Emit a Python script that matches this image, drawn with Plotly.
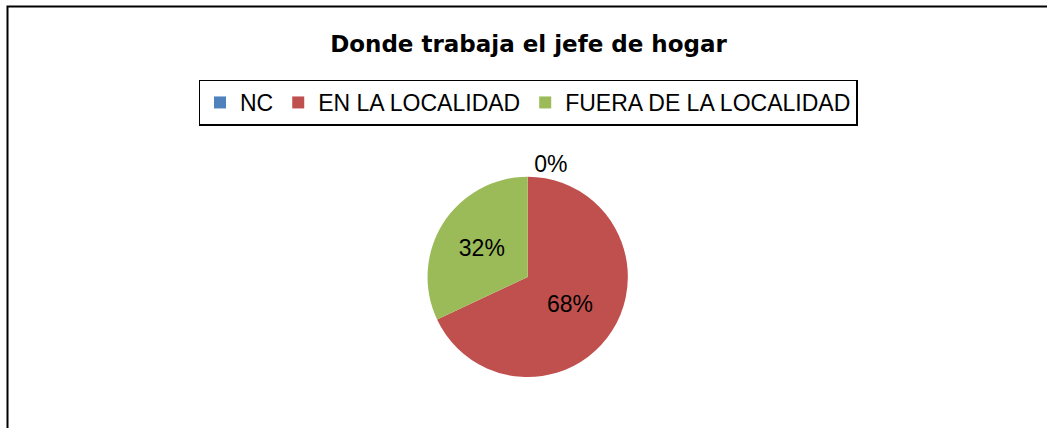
import plotly.graph_objects as go

title = "Donde trabaja el jefe de hogar"
categories = ["NC", "EN LA LOCALIDAD", "FUERA DE LA LOCALIDAD"]
values = [0, 68, 32]
colors = ["#4F81BD", "#C0504D", "#9BBB59"]

W, H = 1047, 428
FONT = "Liberation Sans, Arial, sans-serif"

fig = go.Figure()
fig.add_trace(go.Pie(
    labels=categories,
    values=values,
    marker=dict(colors=colors, line=dict(width=0)),
    sort=False,
    direction="clockwise",
    rotation=0,
    texttemplate="%{percent:.0%}",
    textposition=["outside", "inside", "inside"],
    textfont=dict(family=FONT, size=23, color="black"),
    insidetextorientation="horizontal",
    hoverinfo="label+percent",
    domain=dict(x=[0.354, 0.654], y=[0.119, 0.587]),
    showlegend=True,
))

fig.update_layout(
    width=W, height=H,
    margin=dict(l=0, r=0, t=0, b=0),
    paper_bgcolor="white",
    plot_bgcolor="white",
    font=dict(family=FONT, color="black"),
    title=dict(text=title, x=528.5 / W, xanchor="center", y=1 - 44 / H, yanchor="middle",
               font=dict(family="DejaVu Sans", size=23, color="black", weight="bold")),
    legend=dict(orientation="h", x=528 / W, xanchor="center", y=1 - 102.5 / H, yanchor="middle",
                bordercolor="black", borderwidth=1.5, bgcolor="white",
                font=dict(family=FONT, size=23, color="black"),
                itemclick=False, itemdoubleclick=False),
    shapes=[dict(type="rect", xref="paper", yref="paper",
                 x0=7.5 / W, x1=1.01, y0=-0.01, y1=1 - 6.5 / H,
                 line=dict(color="black", width=2))],
)

fig.write_html("out.html", config={"displayModeBar": False},
               post_script="document.body.style.margin='0';")
